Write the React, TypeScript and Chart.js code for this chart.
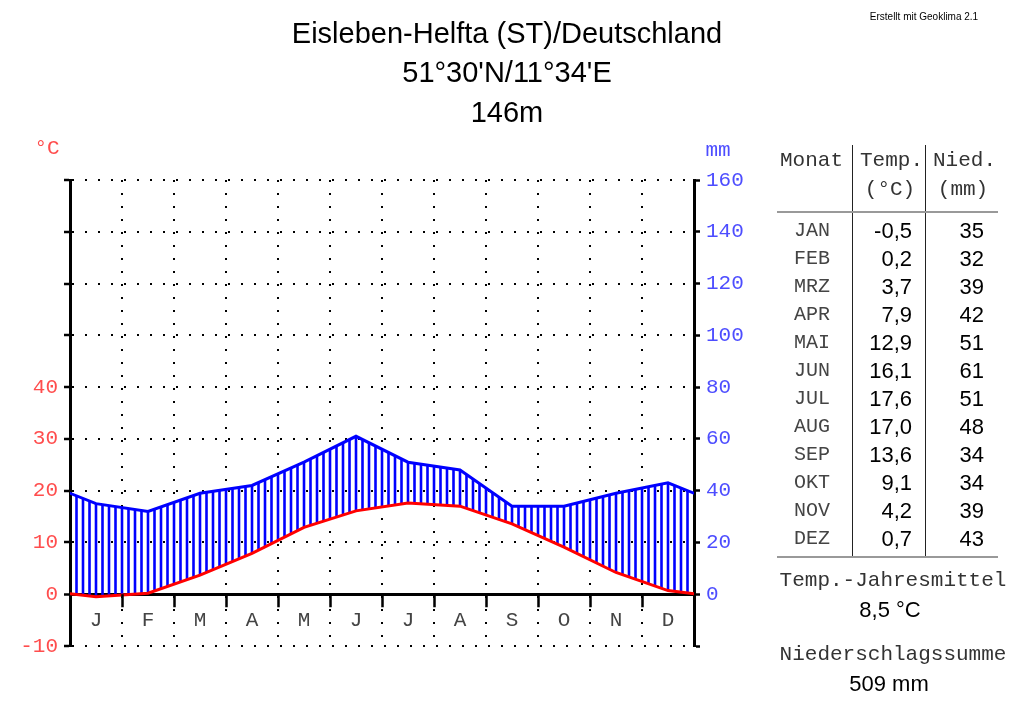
import React, { useEffect, useRef } from 'react';
import { Chart, registerables } from 'chart.js';

Chart.register(...registerables);

const monthLetters = ['J', 'F', 'M', 'A', 'M', 'J', 'J', 'A', 'S', 'O', 'N', 'D'];
const monthNames = ['JAN', 'FEB', 'MRZ', 'APR', 'MAI', 'JUN', 'JUL', 'AUG', 'SEP', 'OKT', 'NOV', 'DEZ'];
const temps = [-0.5, 0.2, 3.7, 7.9, 12.9, 16.1, 17.6, 17.0, 13.6, 9.1, 4.2, 0.7];
const precip = [35, 32, 39, 42, 51, 61, 51, 48, 34, 34, 39, 43];
const titleLines = ['Eisleben-Helfta (ST)/Deutschland', "51°30'N/11°34'E", '146m'];
const creditText = 'Erstellt mit Geoklima 2.1';

const MONO = "'Liberation Mono', 'DejaVu Sans Mono', monospace";
const SANS = "'Liberation Sans', Arial, sans-serif";
const RED_TXT = '#ff4d4d';
const BLUE_TXT = '#4d4dff';

const fmt = (v: number) => v.toFixed(1).replace('.', ',');

function withWrap(vals: number[]) {
  return [
    { x: -0.5, y: vals[vals.length - 1] },
    ...vals.map((v, i) => ({ x: i + 0.5, y: v })),
    { x: vals.length + 0.5, y: vals[0] },
  ];
}

function yAtPixel(pts: { x: number; y: number }[], px: number) {
  for (let i = 0; i < pts.length - 1; i++) {
    const a = pts[i], b = pts[i + 1];
    if (px >= a.x && px <= b.x) {
      const t = b.x === a.x ? 0 : (px - a.x) / (b.x - a.x);
      return a.y + t * (b.y - a.y);
    }
  }
  return pts[0].y;
}

const hatchPlugin = {
  id: 'hatch',
  beforeDatasetsDraw(chart: any) {
    const { ctx, chartArea } = chart;
    const pMeta = chart.getDatasetMeta(0).data.map((e: any) => ({ x: e.x, y: e.y }));
    const tMeta = chart.getDatasetMeta(1).data.map((e: any) => ({ x: e.x, y: e.y }));
    const xs = chart.scales.x;
    ctx.save();
    ctx.beginPath();
    ctx.rect(chartArea.left, chartArea.top, chartArea.right - chartArea.left, chartArea.bottom - chartArea.top);
    ctx.clip();
    ctx.strokeStyle = '#0000ff';
    ctx.lineWidth = 2.6;
    ctx.beginPath();
    for (let k = 1; k < 96; k++) {
      const px = xs.getPixelForValue(k / 8);
      const py = yAtPixel(pMeta, px);
      const ty = yAtPixel(tMeta, px);
      if (py < ty) {
        ctx.moveTo(px, ty);
        ctx.lineTo(px, py);
      }
    }
    ctx.stroke();
    ctx.restore();
  },
  afterDatasetsDraw(chart: any) {
    const { ctx } = chart;
    const xs = chart.scales.x;
    const y0 = chart.scales.y.getPixelForValue(0);
    ctx.save();
    ctx.strokeStyle = '#000';
    ctx.lineWidth = 2.5;
    ctx.beginPath();
    for (let m = 1; m < 12; m++) {
      const px = Math.round(xs.getPixelForValue(m)) + 0.5;
      ctx.moveTo(px, y0);
      ctx.lineTo(px, y0 + 13);
    }
    ctx.stroke();
    ctx.fillStyle = '#444';
    ctx.font = `21px ${MONO}`;
    ctx.textAlign = 'center';
    ctx.textBaseline = 'middle';
    monthLetters.forEach((l, i) => {
      ctx.fillText(l, xs.getPixelForValue(i + 0.5), y0 + 26);
    });
    ctx.restore();
  },
};

function Txt(props: { x: number; y: number; text: string; size: number; font: string; color?: string; align?: 'left' | 'center' | 'right' }) {
  const { x, y, text, size, font, color = '#000', align = 'left' } = props;
  const style: React.CSSProperties = {
    position: 'absolute',
    top: y - size * 0.6,
    height: size * 1.2,
    lineHeight: `${size * 1.2}px`,
    fontSize: size,
    fontFamily: font,
    color,
    whiteSpace: 'nowrap',
  };
  if (align === 'left') style.left = x;
  else if (align === 'right') style.right = 1024 - x;
  else {
    style.left = x;
    style.transform = 'translateX(-50%)';
  }
  return <div style={style}>{text}</div>;
}

export default function App() {
  const ref = useRef<HTMLCanvasElement>(null);

  useEffect(() => {
    const canvas = ref.current!;
    const chart = new Chart(canvas, {
      type: 'line',
      data: {
        datasets: [
          {
            label: 'Niederschlag (mm)',
            data: withWrap(precip),
            yAxisID: 'y2',
            borderColor: '#0000ff',
            borderWidth: 3,
            pointRadius: 0,
            tension: 0,
            fill: false,
            clip: 0,
          } as any,
          {
            label: 'Temperatur (°C)',
            data: withWrap(temps),
            yAxisID: 'y',
            borderColor: '#ff0000',
            borderWidth: 3,
            pointRadius: 0,
            tension: 0,
            fill: false,
            clip: 0,
          } as any,
        ],
      },
      options: {
        responsive: false,
        animation: false,
        events: [],
        layout: { padding: { top: 180, left: 0, right: 0, bottom: 0 } },
        plugins: {
          legend: { display: false },
          tooltip: { enabled: false },
          title: { display: false },
        },
        scales: {
          x: {
            type: 'linear',
            min: 0,
            max: 12,
            position: 'bottom',
            ticks: { display: false, stepSize: 1 },
            grid: {
              color: (c: any) => (c.tick && (c.tick.value === 0 || c.tick.value === 12) ? 'rgba(0,0,0,0)' : '#000'),
              lineWidth: 2,
              drawTicks: false,
            },
            border: { display: false, dash: [2, 11] },
            afterFit: (s: any) => {
              s.height = 64;
            },
          },
          y: {
            type: 'linear',
            position: 'left',
            min: -10,
            max: 80,
            ticks: {
              stepSize: 10,
              padding: 6,
              color: RED_TXT,
              font: { family: MONO, size: 21 },
              callback: (v: any) => (Number(v) <= 40 ? String(v) : ''),
            },
            grid: {
              color: '#000',
              lineWidth: (c: any) => (c.tick && c.tick.value === 0 ? 3 : 2),
              drawTicks: true,
              tickLength: 6,
              tickColor: '#000',
              tickWidth: 2.5,
              tickBorderDash: [],
            },
            border: {
              display: true,
              color: '#000',
              width: 3,
              dash: (c: any) => (c.tick && c.tick.value === 0 ? [] : [2, 11]),
            },
            afterFit: (s: any) => {
              s.width = 70;
            },
          },
          y2: {
            type: 'linear',
            position: 'right',
            min: -20,
            max: 160,
            ticks: {
              stepSize: 20,
              padding: 6,
              color: BLUE_TXT,
              font: { family: MONO, size: 21 },
              callback: (v: any) => (Number(v) >= 0 ? String(v) : ''),
            },
            grid: {
              drawOnChartArea: false,
              drawTicks: true,
              tickLength: 6,
              tickColor: '#000',
              tickWidth: 2.5,
              color: '#000',
            },
            border: { display: true, color: '#000', width: 3 },
            afterFit: (s: any) => {
              s.width = 330;
            },
          },
        },
      } as any,
      plugins: [hatchPlugin],
    });
    return () => chart.destroy();
  }, []);

  const meanTemp = temps.reduce((a, b) => a + b, 0) / temps.length;
  const sumPrecip = precip.reduce((a, b) => a + b, 0);

  return (
    <div style={{ position: 'absolute', left: 0, top: 0, width: 1024, height: 710, background: '#fff', overflow: 'hidden' }}>
      <canvas ref={ref} width={1024} height={710} style={{ display: 'block', width: 1024, height: 710 }} />
      {titleLines.map((t, i) => (
        <Txt key={i} x={507} y={33 + i * 39.5} text={t} size={29} font={SANS} align="center" />
      ))}
      <Txt x={924} y={17} text={creditText} size={10} font={SANS} align="center" />
      <Txt x={47} y={149} text="°C" size={21} font={MONO} color={RED_TXT} align="center" />
      <Txt x={718} y={151} text="mm" size={21} font={MONO} color={BLUE_TXT} align="center" />

      <Txt x={780} y={161} text="Monat" size={21} font={MONO} color="#333" />
      <Txt x={860} y={161} text="Temp." size={21} font={MONO} color="#333" />
      <Txt x={933} y={161} text="Nied." size={21} font={MONO} color="#333" />
      <Txt x={890} y={190} text="(°C)" size={21} font={MONO} color="#333" align="center" />
      <Txt x={963} y={190} text="(mm)" size={21} font={MONO} color="#333" align="center" />
      <div style={{ position: 'absolute', left: 852, top: 145, width: 1, height: 412, background: '#222' }} />
      <div style={{ position: 'absolute', left: 925, top: 145, width: 1, height: 412, background: '#222' }} />
      <div style={{ position: 'absolute', left: 777, top: 211, width: 221, height: 2, background: '#999' }} />
      <div style={{ position: 'absolute', left: 777, top: 556, width: 221, height: 2, background: '#999' }} />
      {monthNames.map((m, i) => (
        <React.Fragment key={m}>
          <Txt x={812} y={231 + i * 28} text={m} size={20} font={MONO} color="#444" align="center" />
          <Txt x={912} y={231 + i * 28} text={fmt(temps[i])} size={22} font={SANS} align="right" />
          <Txt x={984} y={231 + i * 28} text={String(precip[i])} size={22} font={SANS} align="right" />
        </React.Fragment>
      ))}
      <Txt x={893} y={581} text="Temp.-Jahresmittel" size={21} font={MONO} color="#333" align="center" />
      <Txt x={890} y={610} text={`${fmt(meanTemp)} °C`} size={22} font={SANS} align="center" />
      <Txt x={893} y={655} text="Niederschlagssumme" size={21} font={MONO} color="#333" align="center" />
      <Txt x={889} y={684} text={`${sumPrecip} mm`} size={22} font={SANS} align="center" />
    </div>
  );
}
